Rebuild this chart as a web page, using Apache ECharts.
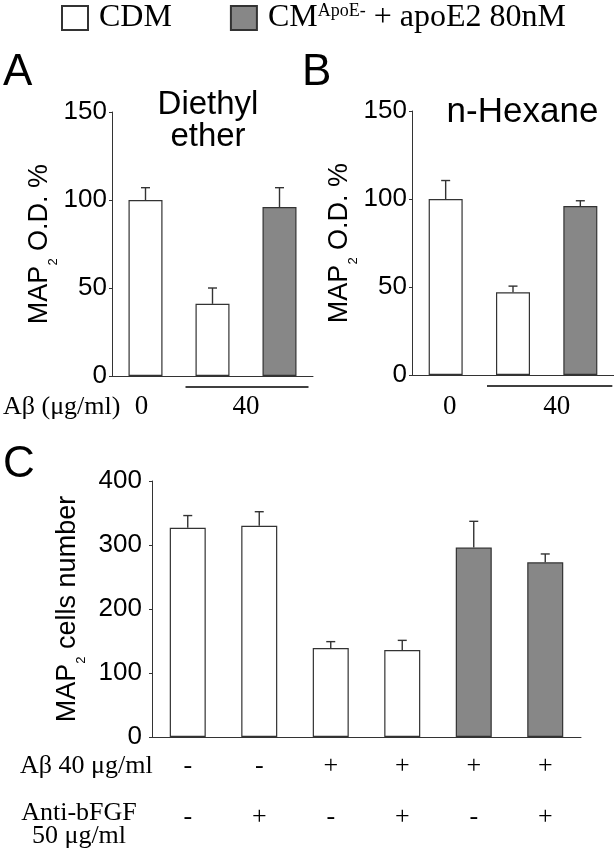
<!DOCTYPE html>
<html>
<head>
<meta charset="utf-8">
<script src="https://cdn.jsdelivr.net/npm/echarts@6/dist/echarts.min.js"></script>
<style>
html,body{margin:0;padding:0;background:#fff;}
#chart{width:614px;height:852px;}
</style>
</head>
<body>
<div id="chart"></div>
<script>
// ---- data ----
const legendNames = ['CDM', 'CM^ApoE- + apoE2 80nM'];

const panelACategories = ['Aβ 0 / CDM', 'Aβ 40 / CDM', 'Aβ 40 / CM+apoE2'];
const panelACDM = [100, 41, null];
const panelACM = [null, null, 96];
const panelAErr = [7, 9, 11];

const panelBCategories = ['Aβ 0 / CDM', 'Aβ 40 / CDM', 'Aβ 40 / CM+apoE2'];
const panelBCDM = [100, 47, null];
const panelBCM = [null, null, 96];
const panelBErr = [10.5, 3.5, 3];

const panelCCategories = ['c1', 'c2', 'c3', 'c4', 'c5', 'c6'];
const panelCCDM = [327, 330, 139, 136, null, null];
const panelCCM = [null, null, null, null, 296, 273];
const panelCErr = [19, 22, 10, 15, 41, 13];
const abetaRow = ['-', '-', '+', '+', '+', '+'];
const antiRow = ['-', '+', '-', '+', '-', '+'];

const abAxisMax = 150, abAxisStep = 50;
const cAxisMax = 400, cAxisStep = 100;

const abRowLabels = ['0', '40'];

// ---- helpers ----
const SANS = 'Liberation Sans';
const SERIF = 'Liberation Serif';
const AXIS = '#333';

function errData(cdm, cm, err) {
  return err.map((e, i) => [i, cdm[i] != null ? cdm[i] : cm[i], e]);
}
function errRender(params, api) {
  const i = api.value(0), m = api.value(1), e = api.value(2);
  const p0 = api.coord([i, m]);
  const p1 = api.coord([i, m + e]);
  const st = {stroke: '#333', lineWidth: 1.4};
  return {type: 'group', children: [
    {type: 'line', shape: {x1: p0[0], y1: p0[1], x2: p1[0], y2: p1[1]}, style: st},
    {type: 'line', shape: {x1: p1[0] - 4.5, y1: p1[1], x2: p1[0] + 4.5, y2: p1[1]}, style: st}
  ]};
}
function yAxisDef(gi, max, step, name, nameGap, margin) {
  return {
    type: 'value', gridIndex: gi, min: 0, max: max, interval: step,
    axisLine: {show: true, lineStyle: {color: AXIS, width: 1}},
    axisTick: {show: true, length: 3, lineStyle: {color: AXIS}},
    splitLine: {show: false},
    axisLabel: {fontFamily: SANS, fontSize: 26, color: '#000', margin: margin},
    name: name, nameLocation: 'middle', nameGap: nameGap, nameRotate: 90,
    nameTextStyle: {
      fontFamily: SANS, color: '#000',
      rich: {
        m: {fontFamily: SANS, fontSize: 27, color: '#000', lineHeight: 40},
        s: {fontFamily: SANS, fontSize: 13, color: '#000', lineHeight: 13, verticalAlign: 'bottom'}
      }
    }
  };
}
function xAxisDef(gi, cats, labelOpt) {
  return {
    type: 'category', gridIndex: gi, data: cats,
    axisLine: {show: true, lineStyle: {color: AXIS, width: 1}},
    axisTick: {show: false},
    axisLabel: labelOpt || {show: false}
  };
}
function barPair(gi, cdm, cm, bw) {
  return [
    {name: legendNames[0], type: 'bar', xAxisIndex: gi, yAxisIndex: gi, data: cdm,
     barWidth: bw, barGap: '-100%',
     itemStyle: {color: '#ffffff', borderColor: '#333', borderWidth: 1.2}},
    {name: legendNames[1], type: 'bar', xAxisIndex: gi, yAxisIndex: gi, data: cm,
     barWidth: bw, barGap: '-100%',
     itemStyle: {color: '#878787', borderColor: '#333', borderWidth: 1.2}}
  ];
}

const chart = echarts.init(document.getElementById('chart'), null, {renderer: 'canvas'});

const yName = '{m|MAP}{s|2}{m| O.D. %}';
const yNameC = '{m|MAP}{s|2}{m| cells number}';

const option = {
  animation: false,
  backgroundColor: '#fff',
  legend: {
    data: legendNames, left: 61, top: 2, padding: 0, itemWidth: 26, itemHeight: 24, itemGap: 58,
    icon: 'rect', selectedMode: false,
    formatter: function (n) {
      if (n === legendNames[0]) return '{n|CDM}';
      return '{n|CM}{s|ApoE-}{n| + apoE2 80nM}';
    },
    textStyle: {
      fontFamily: SERIF, fontSize: 32, color: '#000', padding: [0, 0, 0, 6],
      rich: {
        n: {fontFamily: SERIF, fontSize: 32, color: '#000', lineHeight: 32},
        s: {fontFamily: SERIF, fontSize: 18, color: '#000', lineHeight: 18, verticalAlign: 'top'}
      }
    }
  },
  grid: [
    {left: 112, top: 112, width: 201, height: 264, containLabel: false, outerBoundsMode: 'none'},
    {left: 412, top: 111, width: 202, height: 264, containLabel: false, outerBoundsMode: 'none'},
    {left: 152, top: 481, width: 429, height: 256, containLabel: false, outerBoundsMode: 'none'}
  ],
  xAxis: [
    xAxisDef(0, panelACategories),
    xAxisDef(1, panelBCategories),
    xAxisDef(2, panelCCategories, {
      show: true, interval: 0, margin: 4, fontFamily: SERIF, fontSize: 26, color: '#000',
      lineHeight: 51, verticalAlign: 'top',
      formatter: function (v, i) { return abetaRow[i] + '\n' + antiRow[i]; }
    })
  ],
  yAxis: [
    yAxisDef(0, abAxisMax, abAxisStep, yName, 39, 5),
    yAxisDef(1, abAxisMax, abAxisStep, yName, 39, 5),
    yAxisDef(2, cAxisMax, cAxisStep, yNameC, 63, 10)
  ],
  series: [].concat(
    barPair(0, panelACDM, panelACM, 34),
    barPair(1, panelBCDM, panelBCM, 34),
    barPair(2, panelCCDM, panelCCM, 36),
    [
      {type: 'custom', name: 'errA', xAxisIndex: 0, yAxisIndex: 0, renderItem: errRender,
       data: errData(panelACDM, panelACM, panelAErr), encode: {x: 0, y: 1}, z: 3},
      {type: 'custom', name: 'errB', xAxisIndex: 1, yAxisIndex: 1, renderItem: errRender,
       data: errData(panelBCDM, panelBCM, panelBErr), encode: {x: 0, y: 1}, z: 3},
      {type: 'custom', name: 'errC', xAxisIndex: 2, yAxisIndex: 2, renderItem: errRender,
       data: errData(panelCCDM, panelCCM, panelCErr), encode: {x: 0, y: 1}, z: 3}
    ]
  )
};
chart.setOption(option);

// ---- annotation texts (positioned from the axes) ----
const aX0 = chart.convertToPixel({xAxisIndex: 0}, 0);
const aX1 = chart.convertToPixel({xAxisIndex: 0}, 1);
const aX2 = chart.convertToPixel({xAxisIndex: 0}, 2);
const bX0 = chart.convertToPixel({xAxisIndex: 1}, 0);
const bX1 = chart.convertToPixel({xAxisIndex: 1}, 1);
const bX2 = chart.convertToPixel({xAxisIndex: 1}, 2);

function txt(text, x, y, font, align, extra) {
  return {type: 'text', silent: true, style: Object.assign({
    text: text, x: x, y: y, font: font, fill: '#000',
    textAlign: align || 'left', textVerticalAlign: 'middle'
  }, extra || {})};
}
function hline(x1, x2, y) {
  return {type: 'line', silent: true, shape: {x1: x1, y1: y, x2: x2, y2: y},
          style: {stroke: '#000', lineWidth: 1.6}};
}

chart.setOption({
  graphic: [
    txt('A', 3, 73, '44px ' + SANS),
    txt('B', 302, 73, '44px ' + SANS),
    txt('C', 3, 465, '44px ' + SANS),
    txt('Diethyl\nether', 208, 121, '33px ' + SANS, 'center', {lineHeight: 32}),
    txt('n-Hexane', 522.5, 112.5, '35px ' + SANS, 'center'),
    txt('Aβ (μg/ml)', 3, 407, '26px ' + SERIF),
    txt(abRowLabels[0], aX0 - 4, 407, '27px ' + SERIF, 'center'),
    txt(abRowLabels[1], (aX1 + aX2) / 2, 407, '27px ' + SERIF, 'center'),
    txt(abRowLabels[0], bX0 + 4, 407, '27px ' + SERIF, 'center'),
    txt(abRowLabels[1], (bX1 + bX2) / 2 + 10, 407, '27px ' + SERIF, 'center'),
    hline(aX1 - 27, aX2 + 29, 387),
    hline(bX1 - 26, bX2 + 32, 386),
    txt('Aβ 40 μg/ml', 20, 766, '26px ' + SERIF),
    txt('Anti-bFGF\n50 μg/ml', 79, 824.5, '26px ' + SERIF, 'center', {lineHeight: 23})
  ]
});
</script>
</body>
</html>
